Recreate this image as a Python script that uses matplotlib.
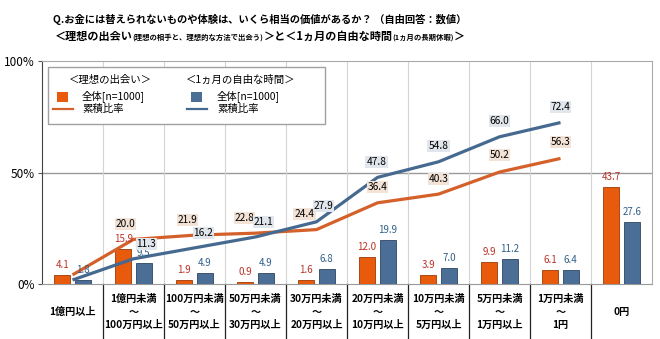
import numpy as np
import matplotlib
matplotlib.use("Agg")
import matplotlib.pyplot as plt
from matplotlib.patches import Rectangle
from matplotlib.lines import Line2D
import matplotlib.transforms as mtrans

plt.rcParams['font.family'] = ['Noto Sans CJK JP', 'DejaVu Sans']

# =========================
# DATA
# =========================
categories = ["1億円以上",
              "1億円未満\n～\n100万円以上",
              "100万円未満\n～\n50万円以上",
              "50万円未満\n～\n30万円以上",
              "30万円未満\n～\n20万円以上",
              "20万円未満\n～\n10万円以上",
              "10万円未満\n～\n5万円以上",
              "5万円未満\n～\n1万円以上",
              "1万円未満\n～\n1円",
              "0円"]
deai_pct = [4.1, 15.9, 1.9, 0.9, 1.6, 12.0, 3.9, 9.9, 6.1, 43.7]
jikan_pct = [1.8, 9.5, 4.9, 4.9, 6.8, 19.9, 7.0, 11.2, 6.4, 27.6]
deai_cum = [4.1, 20.0, 21.9, 22.8, 24.4, 36.4, 40.3, 50.2, 56.3]
jikan_cum = [1.8, 11.3, 16.2, 21.1, 27.9, 47.8, 54.8, 66.0, 72.4]

C_OR = "#E85A0C"
C_OR_LINE = "#D4602A"
C_BL = "#4A6E96"
C_BL_LINE = "#46698F"

W, H = 660, 339
def fx(x): return x / W
def fy(y): return 1 - y / H

fig = plt.figure(figsize=(6.6, 3.39), dpi=100)
ax = fig.add_axes([fx(42), fy(284), (652 - 42) / W, (284 - 61) / H])

x = np.arange(len(categories))
off, bw = 0.17, 0.27
ax.bar(x - off, deai_pct, bw, color=C_OR, edgecolor="#9a3a05", linewidth=0.6, zorder=3)
ax.bar(x + off, jikan_pct, bw, color=C_BL, edgecolor="#2c4563", linewidth=0.6, zorder=3)

xc = np.arange(len(deai_cum))
ax.plot(xc, deai_cum, color=C_OR_LINE, lw=2.3, zorder=4, solid_capstyle="butt")
ax.plot(xc, jikan_cum, color=C_BL_LINE, lw=2.3, zorder=4, solid_capstyle="butt")

ax.set_xlim(-0.5, len(categories) - 0.5)
ax.set_ylim(0, 100)
ax.set_yticks([0, 50, 100])
ax.set_yticklabels(["0%", "50%", "100%"], fontsize=8.5)
ax.tick_params(axis="y", length=3, color="#555555", pad=2)
ax.set_xticks([])

# grid
ax.axhline(50, color="#999999", lw=1.0, zorder=1)
for b in np.arange(0.5, len(categories) - 0.5, 1):
    ax.axvline(b, color="#d4d4d4", lw=0.8, zorder=1)
for s in ["top", "right"]:
    ax.spines[s].set_color("#aaaaaa")
ax.spines["bottom"].set_color("#999999")
ax.spines["left"].set_color("#444444")

# category separators below axis + labels
tr = mtrans.blended_transform_factory(ax.transData, ax.transAxes)
below = -(339 - 284) / (284 - 61)
for b in np.arange(0.5, len(categories) - 0.5, 1):
    ax.add_line(Line2D([b, b], [0, below], transform=tr, color="#222222", lw=0.9, clip_on=False))
lab_y = -(312 - 284) / (284 - 61)
for i, c in enumerate(categories):
    ax.text(i, lab_y, c, transform=tr, ha="center", va="center", fontsize=7.3,
            fontweight="bold", linespacing=1.4)

# bar labels
for i, v in enumerate(deai_pct):
    ax.annotate(f"{v:.1f}", (i - off, v), xytext=(0, 5), textcoords="offset pixels",
                ha="center", va="bottom", fontsize=7, color="#B83226", zorder=6)
for i, v in enumerate(jikan_pct):
    ax.annotate(f"{v:.1f}", (i + off, v), xytext=(0, 5), textcoords="offset pixels",
                ha="center", va="bottom", fontsize=7, color="#2F5F8A", zorder=6)

# cumulative labels
or_off = [(-8, 15), (-7, 15), (-11, 15), (-12, 16), (0, 16), (0, 15), (0, 17), (0, 16)]
bl_off = [(13, 15), (9, 15), (8, 15), (7, 16), (-1, 15), (0, 16), (0, 16), (0, 16)]
for i in range(1, len(deai_cum)):
    dx, dy = or_off[i - 1]
    ax.annotate(f"{deai_cum[i]:.1f}", (i, deai_cum[i]), xytext=(dx, dy), textcoords="offset pixels",
                ha="center", va="center", fontsize=7.3, color="black", zorder=7,
                bbox=dict(boxstyle="square,pad=0.1", fc="#F3E3D6", ec="none"))
for i in range(1, len(jikan_cum)):
    dx, dy = bl_off[i - 1]
    ax.annotate(f"{jikan_cum[i]:.1f}", (i, jikan_cum[i]), xytext=(dx, dy), textcoords="offset pixels",
                ha="center", va="center", fontsize=7.3, color="black", zorder=7,
                bbox=dict(boxstyle="square,pad=0.1", fc="#E1E6EC", ec="none"))

# legend (drawn by hand, two grouped columns)
fig.patches.append(Rectangle((fx(48), fy(124)), (325 - 48) / W, (124 - 67) / H,
                             transform=fig.transFigure, fc="white", ec="#a0a0a0", lw=1, zorder=10))
lg = dict(transform=fig.transFigure, fontsize=7.5, va="center", zorder=11)
fig.text(fx(110), fy(80), "＜理想の出会い＞", ha="center", **lg)
fig.text(fx(241), fy(80), "＜1ヵ月の自由な時間＞", ha="center", **lg)
for x0, col, lcol in [(57, C_OR, C_OR_LINE), (191, C_BL, C_BL_LINE)]:
    fig.patches.append(Rectangle((fx(x0), fy(102)), 11 / W, 10 / H, transform=fig.transFigure,
                                 fc=col, ec="none", zorder=11))
    fig.lines.append(Line2D([fx(x0 - 4), fx(x0 + 16)], [fy(108.5), fy(108.5)],
                            transform=fig.transFigure, color=lcol, lw=1.6, zorder=11))
for x0 in [82, 217]:
    fig.text(fx(x0), fy(96.5), "全体[n=1000]", ha="left", **lg)
    fig.text(fx(x0), fy(109), "累積比率", ha="left", **lg)

# title
fig.text(fx(260), fy(19), "Q.お金には替えられないものや体験は、いくら相当の価値があるか？ （自由回答：数値）",
         ha="center", va="center", fontsize=7.4, fontweight="bold")

renderer = fig.canvas.get_renderer()
pieces = [("＜理想の出会い", 8.0), ("(理想の相手と、理想的な方法で出会う)", 5.3),
          ("＞と＜1ヵ月の自由な時間", 8.0), ("(1ヵ月の長期休暇)", 5.3), ("＞", 8.0)]
cur = 0.0
texts = []
for s, fs in pieces:
    t = fig.text(cur, fy(40), s, ha="left", va="baseline", fontsize=fs, fontweight="bold")
    bb = t.get_window_extent(renderer)
    cur += bb.width / W
    texts.append(t)
shift = fx(260) - cur / 2
for t in texts:
    px, py = t.get_position()
    t.set_position((px + shift, py))

fig.savefig("out.png", dpi=100)
